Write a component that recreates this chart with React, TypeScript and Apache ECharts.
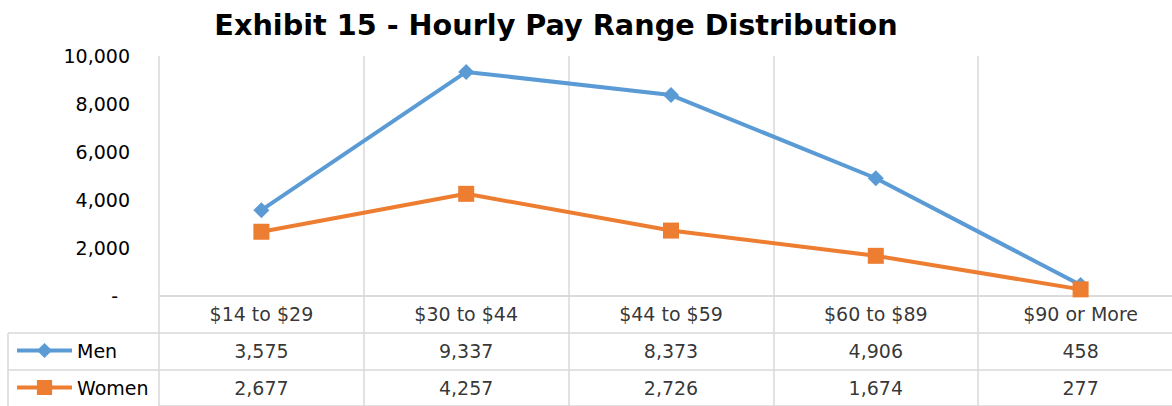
import React, { useEffect, useRef } from "react";
import * as echarts from "echarts";

const titleText = "Exhibit 15 - Hourly Pay Range Distribution";
const categories = ["$14 to $29", "$30 to $44", "$44 to $59", "$60 to $89", "$90 or More"];
const men = [3575, 9337, 8373, 4906, 458];
const women = [2677, 4257, 2726, 1674, 277];
const seriesNames = ["Men", "Women"];
const yMin = 0;
const yMax = 10000;
const yInterval = 2000;
const tableRows = ["head", "Men", "Women"];

const FONT = "DejaVu Sans";
const MEN_COLOR = "#5B9BD5";
const WOMEN_COLOR = "#ED7D31";
const LINE_COLOR = "#D9D9D9";

// layout
const W = 1172;
const H = 406;
const CANVAS_W = 1190; // chart is wider than the page; the plot's right edge is cropped
const PLOT_LEFT = 159;
const PLOT_WIDTH = 1024;
const PLOT_TOP = 56;
const PLOT_BOTTOM_Y = 296;
const ROW_H = 37;
const LEG_X = 8;
const TITLE_CX = 551;

const fmt = (v: number) => v.toLocaleString("en-US");

export default function App() {
  const ref = useRef<HTMLDivElement>(null);

  useEffect(() => {
    if (!ref.current) return;
    const chart = echarts.init(ref.current, undefined, { renderer: "svg" });

    const tableData: any[] = [];
    categories.forEach((c, i) => {
      tableData.push({ value: [c, "head"], name: c });
      tableData.push({ value: [c, "Men"], name: fmt(men[i]) });
      tableData.push({ value: [c, "Women"], name: fmt(women[i]) });
    });

    const row1 = PLOT_BOTTOM_Y + ROW_H;
    const row2 = PLOT_BOTTOM_Y + 2 * ROW_H;
    const row3 = PLOT_BOTTOM_Y + 3 * ROW_H;
    const lineStyle = { stroke: LINE_COLOR, lineWidth: 1.5 };

    chart.setOption({
      animation: false,
      backgroundColor: "#ffffff",
      textStyle: { fontFamily: FONT },
      title: {
        text: titleText,
        left: TITLE_CX,
        textAlign: "center",
        top: 5,
        textStyle: { fontFamily: FONT, fontWeight: "bold", fontSize: 28.7, color: "#000" },
      },
      legend: {
        data: seriesNames,
        orient: "vertical",
        left: 15,
        top: row1 + 8,
        padding: 0,
        itemWidth: 55,
        itemHeight: 19,
        itemGap: 18,
        lineStyle: { width: 4 },
        textStyle: { fontFamily: FONT, fontSize: 19, color: "#000", lineHeight: 19 },
      },
      grid: [
        { left: PLOT_LEFT, width: PLOT_WIDTH, top: PLOT_TOP, height: PLOT_BOTTOM_Y - PLOT_TOP },
        { left: PLOT_LEFT, width: PLOT_WIDTH, top: PLOT_BOTTOM_Y, height: 3 * ROW_H },
      ],
      xAxis: [
        {
          type: "category",
          gridIndex: 0,
          data: categories,
          boundaryGap: true,
          axisLine: { show: true, lineStyle: { color: LINE_COLOR, width: 1.5 } },
          axisTick: { show: false },
          axisLabel: { show: false },
          splitLine: { show: true, lineStyle: { color: LINE_COLOR, width: 1.5 } },
        },
        {
          type: "category",
          gridIndex: 1,
          data: categories,
          boundaryGap: true,
          axisLine: { show: false },
          axisTick: { show: false },
          axisLabel: { show: false },
          splitLine: { show: true, lineStyle: { color: LINE_COLOR, width: 1.5 } },
        },
      ],
      yAxis: [
        {
          type: "value",
          gridIndex: 0,
          min: yMin,
          max: yMax,
          interval: yInterval,
          axisLine: { show: false },
          axisTick: { show: false },
          splitLine: { show: false },
          axisLabel: {
            margin: 29,
            fontFamily: FONT,
            fontSize: 19,
            color: "#000",
            formatter: (v: number) => (v === 0 ? "{z|-}" : fmt(v)),
            rich: { z: { fontFamily: FONT, fontSize: 19, color: "#000", padding: [0, 12, 0, 0] } },
          },
        },
        {
          type: "category",
          gridIndex: 1,
          data: tableRows,
          inverse: true,
          axisLine: { show: false },
          axisTick: { show: false },
          axisLabel: { show: false },
          splitLine: { show: true, lineStyle: { color: LINE_COLOR, width: 1.5 } },
        },
      ],
      series: [
        {
          name: seriesNames[0],
          type: "line",
          xAxisIndex: 0,
          yAxisIndex: 0,
          data: men,
          symbol: "diamond",
          symbolSize: 16,
          itemStyle: { color: MEN_COLOR },
          lineStyle: { color: MEN_COLOR, width: 4 },
        },
        {
          name: seriesNames[1],
          type: "line",
          xAxisIndex: 0,
          yAxisIndex: 0,
          data: women,
          symbol: "rect",
          symbolSize: 16,
          itemStyle: { color: WOMEN_COLOR },
          lineStyle: { color: WOMEN_COLOR, width: 4 },
        },
        {
          type: "scatter",
          xAxisIndex: 1,
          yAxisIndex: 1,
          data: tableData,
          symbolSize: 1,
          itemStyle: { color: "rgba(0,0,0,0)" },
          silent: true,
          label: {
            show: true,
            position: "inside",
            formatter: "{b}",
            fontFamily: FONT,
            fontSize: 19,
            color: "#000",
          },
        },
      ],
      graphic: [
        { type: "line", shape: { x1: LEG_X, y1: row1, x2: PLOT_LEFT, y2: row1 }, style: lineStyle, silent: true },
        { type: "line", shape: { x1: LEG_X, y1: row2, x2: PLOT_LEFT, y2: row2 }, style: lineStyle, silent: true },
        { type: "line", shape: { x1: LEG_X, y1: row3, x2: PLOT_LEFT, y2: row3 }, style: lineStyle, silent: true },
        { type: "line", shape: { x1: LEG_X, y1: row1, x2: LEG_X, y2: row3 }, style: lineStyle, silent: true },
      ],
    });

    return () => chart.dispose();
  }, []);

  return (
    <div
      style={{ position: "fixed", left: 0, top: 0, width: W, height: H, overflow: "hidden", background: "#fff" }}
    >
      <div ref={ref} style={{ width: CANVAS_W, height: H }} />
    </div>
  );
}
